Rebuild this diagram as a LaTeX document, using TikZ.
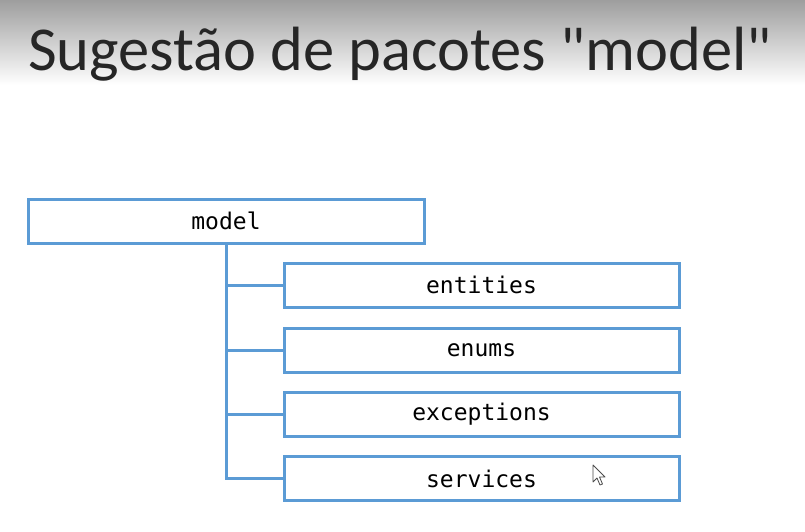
\documentclass[tikz,border=0pt]{standalone}
\usepackage{fontspec}
\setmainfont{Carlito}[Ligatures=TeXOff]
\newfontfamily\boxmono{DejaVu Sans Mono}
\definecolor{boxblue}{HTML}{5B9BD5}
\begin{document}
\begin{tikzpicture}[x=1pt,y=-1pt,
  pkg/.style={draw=boxblue,line width=3pt,fill=white,minimum height=44pt,inner sep=0pt,
    font=\boxmono\fontsize{23}{26}\selectfont,text=black},
  wire/.style={draw=boxblue,line width=3pt}]
\useasboundingbox (0,0) rectangle (805,531);
\shade[top color=black!38,bottom color=white] (0,0) rectangle (805,85);
\node[anchor=base west,inner sep=0pt,font=\fontsize{62.5}{66}\selectfont,text=black!85] (title) at (28,70) {Sugestão de pacotes "model"};
\node[pkg,minimum width=396pt] (model) at (226,221) {model};
\node[pkg,minimum width=395pt] (entities) at (481.5,285) {entities};
\node[pkg,minimum width=395pt] (enums) at (481.5,350) {enums};
\node[pkg,minimum width=395pt] (exceptions) at (481.5,414) {exceptions};
\node[pkg,minimum width=395pt] (services) at (481.5,478.5) {services};
\coordinate (trunk) at (226,478.5);
\draw[wire] (model.south) -- (trunk) -- (services.west);
\draw[wire] (model.south |- entities.west) -- (entities.west);
\draw[wire] (model.south |- enums.west) -- (enums.west);
\draw[wire] (model.south |- exceptions.west) -- (exceptions.west);
\draw[fill=white,draw=black!70,line width=0.8pt,line join=round] (593,465) -- (593,482) -- (597,478) -- (600,485) -- (602.5,484) -- (599.5,477) -- (605,477) -- cycle;
\end{tikzpicture}
\end{document}
